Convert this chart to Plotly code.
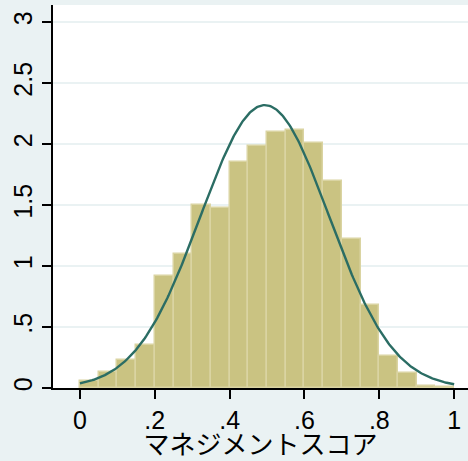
import numpy as np
import plotly.graph_objects as go

# Histogram bins (width 0.05) and densities
bin_starts = [0.00, 0.05, 0.10, 0.15, 0.20, 0.25, 0.30, 0.35, 0.40, 0.45,
              0.50, 0.55, 0.60, 0.65, 0.70, 0.75, 0.80, 0.85, 0.90, 0.95]
densities = [0.055, 0.134, 0.23, 0.352, 0.918, 1.098, 1.497, 1.478, 1.852, 1.984,
             2.096, 2.115, 2.005, 1.697, 1.221, 0.68, 0.262, 0.12, 0.019, 0.012]
bin_width = 0.05

# Fitted normal density overlay (Stata "histogram, normal")
norm_mean = 0.494
norm_sd = 0.172

x_ticks = [0, 0.2, 0.4, 0.6, 0.8, 1]
x_tick_labels = ["0", ".2", ".4", ".6", ".8", "1"]
y_ticks = [0, 0.5, 1, 1.5, 2, 2.5, 3]
y_tick_labels = ["0", ".5", "1", "1.5", "2", "2.5", "3"]
x_title = "マネジメントスコア"

centers = [s + bin_width / 2 for s in bin_starts]
xs = np.linspace(0, 1, 301)
ys = np.exp(-((xs - norm_mean) ** 2) / (2 * norm_sd ** 2)) / (norm_sd * np.sqrt(2 * np.pi))

fig = go.Figure()
fig.add_trace(go.Bar(
    x=centers, y=densities, width=[bin_width] * len(centers),
    marker=dict(color="#CAC382", line=dict(color="#DAD4A2", width=1.5)),
    showlegend=False, hoverinfo="skip",
))
fig.add_trace(go.Scatter(
    x=xs, y=ys, mode="lines",
    line=dict(color="#2B6D64", width=2.4),
    showlegend=False, hoverinfo="skip",
))

font_family = "Liberation Sans, Arial, Noto Sans CJK JP, sans-serif"

fig.update_layout(
    width=468, height=461,
    margin=dict(l=53, r=0, t=5, b=73),
    paper_bgcolor="#EAF2F3",
    plot_bgcolor="#FFFFFF",
    bargap=0,
    font=dict(family=font_family, color="#000000", size=25),
    xaxis=dict(
        range=[-0.072, 1.037],
        tickvals=x_ticks, ticktext=x_tick_labels,
        ticks="outside", ticklen=9, tickwidth=1.5, tickcolor="#000000",
        showline=True, linecolor="#000000", linewidth=1.5,
        showgrid=False, zeroline=False,
        tickfont=dict(size=25),
        title=dict(text=x_title, font=dict(size=26, family="Noto Sans CJK JP, sans-serif"), standoff=6),
    ),
    yaxis=dict(
        range=[0, 3.14],
        tickvals=y_ticks, ticktext=y_tick_labels,
        tickangle=-90,
        ticks="outside", ticklen=9, tickwidth=1.5, tickcolor="#000000",
        showline=True, linecolor="#000000", linewidth=1.5,
        showgrid=True, gridcolor="#EAF2F3", gridwidth=2,
        zeroline=False,
        tickfont=dict(size=25),
    ),
)

fig.write_html("out.html")
